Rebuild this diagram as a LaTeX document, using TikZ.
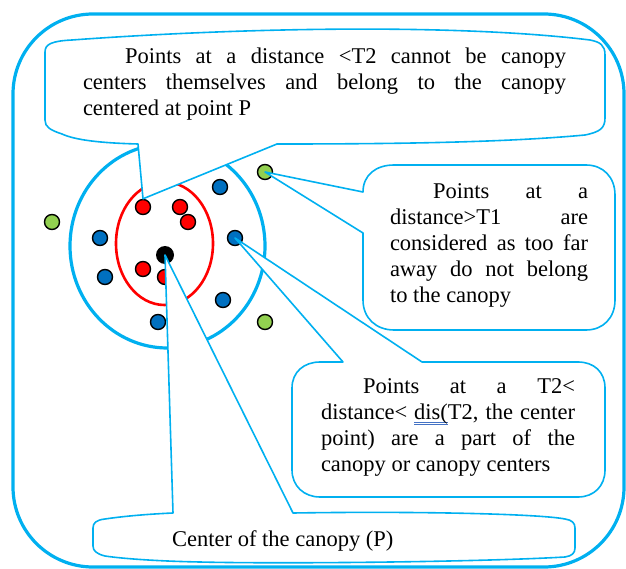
\documentclass[tikz,border=0pt]{standalone}
\usepackage{fontspec}
\setmainfont{Liberation Serif}
\definecolor{canopy-blue}{HTML}{00B0F0}
\definecolor{dot-blue}{HTML}{0070C0}
\definecolor{dot-green}{HTML}{92D050}
\definecolor{dot-red}{HTML}{FF0000}
\definecolor{spell-blue}{HTML}{4472C4}
% one justified line of a callout
\newcommand{\jline}[2]{\makebox[#1][s]{#2}}
% word with the spell-check double underline
\newcommand{\spellmark}[1]{\setbox0=\hbox{#1}%
  \rlap{\color{spell-blue}\rule[-3.2pt]{\wd0}{0.7pt}}%
  \rlap{\color{spell-blue}\rule[-5.4pt]{\wd0}{0.7pt}}#1}

\begin{document}
\begin{tikzpicture}[x=1pt, y=-1pt,
    every node/.style={font=\fontsize{22.5}{26}\selectfont},
    datapt/.style={circle, draw=black, line width=1.4pt, minimum size=15pt, inner sep=0pt},
    callout/.style={draw=canopy-blue, fill=white, line width=1.6pt, line join=round},
    note/.style={text width=#1, align=left, inner sep=0pt,
      execute at begin node={\spaceskip=0pt\xspaceskip=0pt}}]
    \useasboundingbox (0,0) rectangle (626,569);
    \draw[canopy-blue, line width=3.2pt, rounded corners=80pt] (13,14) rectangle (624,567);
    % the canopy: T1 circle and T2 ellipse
    \draw[canopy-blue, line width=3.2pt] (167.5,246) ellipse [x radius=97.5, y radius=102];
    \draw[dot-red, line width=2.6pt] (164.5,243.5) ellipse [x radius=48.5, y radius=61.5];

    \node[datapt, fill=dot-green] (g1) at (52,222) {};
    \node[datapt, fill=dot-green] (g2) at (265,172) {};
    \node[datapt, fill=dot-green] (g3) at (265,322) {};
    \node[datapt, fill=dot-blue] (b1) at (220,187) {};
    \node[datapt, fill=dot-blue] (b2) at (100,238) {};
    \node[datapt, fill=dot-blue] (b3) at (235,238) {};
    \node[datapt, fill=dot-blue] (b4) at (105,277) {};
    \node[datapt, fill=dot-blue] (b5) at (223,300) {};
    \node[datapt, fill=dot-blue] (b6) at (158,322) {};
    \node[datapt, fill=dot-red] (r1) at (143,207) {};
    \node[datapt, fill=dot-red] (r2) at (180,207) {};
    \node[datapt, fill=dot-red] (r3) at (188,222) {};
    \node[datapt, fill=dot-red] (r4) at (143,269) {};
    \node[datapt, fill=dot-red] (r5) at (165,277) {};
    \node[circle, fill=black, minimum size=18pt, inner sep=0pt] (P) at (165,255) {};

    % callouts
    \draw[callout] (r1.north) -- (138,144) .. controls (100,143) and (75,140) .. (62,134)
      .. controls (50,130) and (45,127) .. (45,120) -- (45,52)
      .. controls (45,44) and (52,41) .. (72,40) .. controls (250,27) and (460,24) .. (590,40)
      .. controls (600,42) and (605,45) .. (605,55) -- (605,118)
      .. controls (605,128) and (600,132) .. (585,135) .. controls (500,143) and (380,144) .. (277,144)
      -- cycle;
    \draw[callout] (g2.center) -- (363,233) -- (363,300) .. controls (363,318) and (376,330) .. (394,330)
      -- (586,330) .. controls (603,330) and (615,318) .. (615,300) -- (615,195)
      .. controls (615,177) and (603,165) .. (586,165) -- (394,165)
      .. controls (376,165) and (363,175) .. (363,192) -- cycle;
    \draw[callout] (b3.center) -- (422,362) -- (578,362) .. controls (594,362) and (605,372) .. (605,388)
      -- (605,470) .. controls (605,486) and (594,497) .. (578,497) -- (320,497)
      .. controls (304,497) and (292,486) .. (292,470) -- (292,388)
      .. controls (292,372) and (304,362) .. (320,362) -- (343,362) -- cycle;
    \draw[callout] (P.center) -- (293,513) .. controls (420,511) and (540,514) .. (565,519)
      .. controls (572,520) and (575,523) .. (575,528) -- (575,548)
      .. controls (575,553) and (572,556) .. (565,557) .. controls (480,562) and (280,564) .. (200,562)
      .. controls (150,561) and (118,558) .. (105,556) .. controls (97,554) and (93,551) .. (93,546)
      -- (93,528) .. controls (93,523) and (96,520) .. (105,519) .. controls (125,516) and (150,514) .. (173,513)
      -- cycle;

    \node[note=483pt] (t1) at (324.5,84) {\hspace*{42pt}\jline{441pt}{Points at a distance <T2 cannot be canopy}\\
      \jline{483pt}{centers themselves and belong to the canopy}\\
      centered at point P};
    \node[note=198pt] (t2) at (489,245) {\hspace*{43pt}\jline{155pt}{Points at a}\\
      \jline{198pt}{distance>T1 are}\\
      \jline{198pt}{considered as too far}\\
      \jline{198pt}{away do not belong}\\
      to the canopy};
    \node[note=254pt] (t3) at (448,427) {\hspace*{42pt}\jline{212pt}{Points at a T2<}\\
      \jline{254pt}{distance< \spellmark{dis(}T2, the center}\\
      \jline{254pt}{point) are a part of the}\\
      canopy or canopy centers};
    \node[anchor=west, inner sep=0pt] (t4) at (172,541) {Center of the canopy (P)};
\end{tikzpicture}
\end{document}
